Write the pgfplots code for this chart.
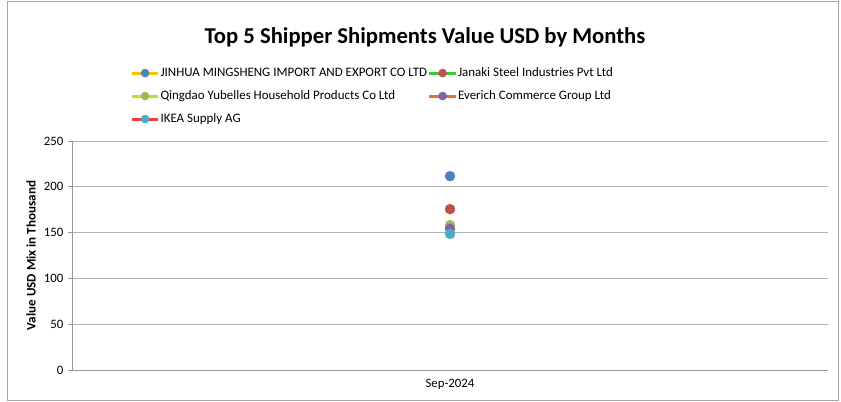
\documentclass[border=0pt]{standalone}
\usepackage{fontspec}
\setmainfont{Carlito}
\usepackage{pgfplots}
\pgfplotsset{compat=1.18}
\definecolor{lYel}{HTML}{F2C400}
\definecolor{mBlue}{HTML}{4F81BD}
\definecolor{lGreen}{HTML}{33CC33}
\definecolor{mRed}{HTML}{C0504D}
\definecolor{lLime}{HTML}{B5E61D}
\definecolor{mGreen}{HTML}{9BBB59}
\definecolor{lOrange}{HTML}{E8702A}
\definecolor{mPurple}{HTML}{8064A2}
\definecolor{lRed}{HTML}{F03C3C}
\definecolor{mCyan}{HTML}{4BACC6}
\begin{document}
\begin{tikzpicture}[x=0.75pt,y=0.75pt]
\path[use as bounding box] (0,0) rectangle (841,402);
\draw[gray!70, line width=0.6pt] (7.5,1.5) rectangle (838,401);
\node[font=\fontsize{17}{20}\selectfont\bfseries] at (425,365) {Top 5 Shipper Shipments Value USD by Months};
\begin{axis}[
  at={(54pt,24pt)}, anchor=south west,
  scale only axis, width=567pt, height=171.75pt,
  xmin=-1, xmax=1, ymin=0, ymax=250,
  xtick={0}, xticklabels={Sep-2024},
  ytick={0,50,100,150,200,250},
  axis x line*=bottom, axis y line*=left,
  axis line style={gray!80, line width=0.6pt},
  ymajorgrids, grid style={gray!60, line width=0.6pt},
  major x tick style={draw=none},
  y tick style={gray!80, line width=0.6pt},
  tick align=outside, major tick length=3pt,
  tick label style={font=\fontsize{9.6}{11}\selectfont},
  /pgf/number format/assume math mode=true,
  ylabel={Value USD Mix in Thousand},
  ylabel style={font=\fontsize{9.8}{11}\selectfont\bfseries, at={(axis description cs:-0.0542,0.5)}, anchor=center},
  legend columns=2,
  legend style={at={(0.0767,1.345)}, anchor=north west, draw=none, fill=none,
    font=\fontsize{9.7}{11}\selectfont, row sep=5pt, inner xsep=0pt,
    nodes={inner xsep=0.5pt},
    /tikz/every odd column/.style={column sep=0pt},
    /tikz/every even column/.style={column sep=0pt}},
  legend cell align=left,
  legend image code/.code={
    \draw[#1, line width=2.2pt, mark=none] (0pt,0pt) -- (20pt,0pt);
    \draw[#1, mark size=3pt] plot coordinates {(10pt,0pt)};
  },
]
\addplot[draw=lYel, mark=*, mark size=3.7pt, mark options={draw=mBlue, fill=mBlue}] coordinates {(0,211.6)};
\addlegendentry{JINHUA MINGSHENG IMPORT AND EXPORT CO LTD}
\addplot[draw=lGreen, mark=*, mark size=3.7pt, mark options={draw=mRed, fill=mRed}] coordinates {(0,175.6)};
\addlegendentry{Janaki Steel Industries Pvt Ltd}
\addplot[draw=lLime, mark=*, mark size=3.7pt, mark options={draw=mGreen, fill=mGreen}] coordinates {(0,158.1)};
\addlegendentry{Qingdao Yubelles Household Products Co Ltd}
\addplot[draw=lOrange, mark=*, mark size=3.7pt, mark options={draw=mPurple, fill=mPurple}] coordinates {(0,154.1)};
\addlegendentry{Everich Commerce Group Ltd}
\addplot[draw=lRed, mark=*, mark size=3.7pt, mark options={draw=mCyan, fill=mCyan}] coordinates {(0,148.6)};
\addlegendentry{IKEA Supply AG}
\end{axis}
\end{tikzpicture}
\end{document}
